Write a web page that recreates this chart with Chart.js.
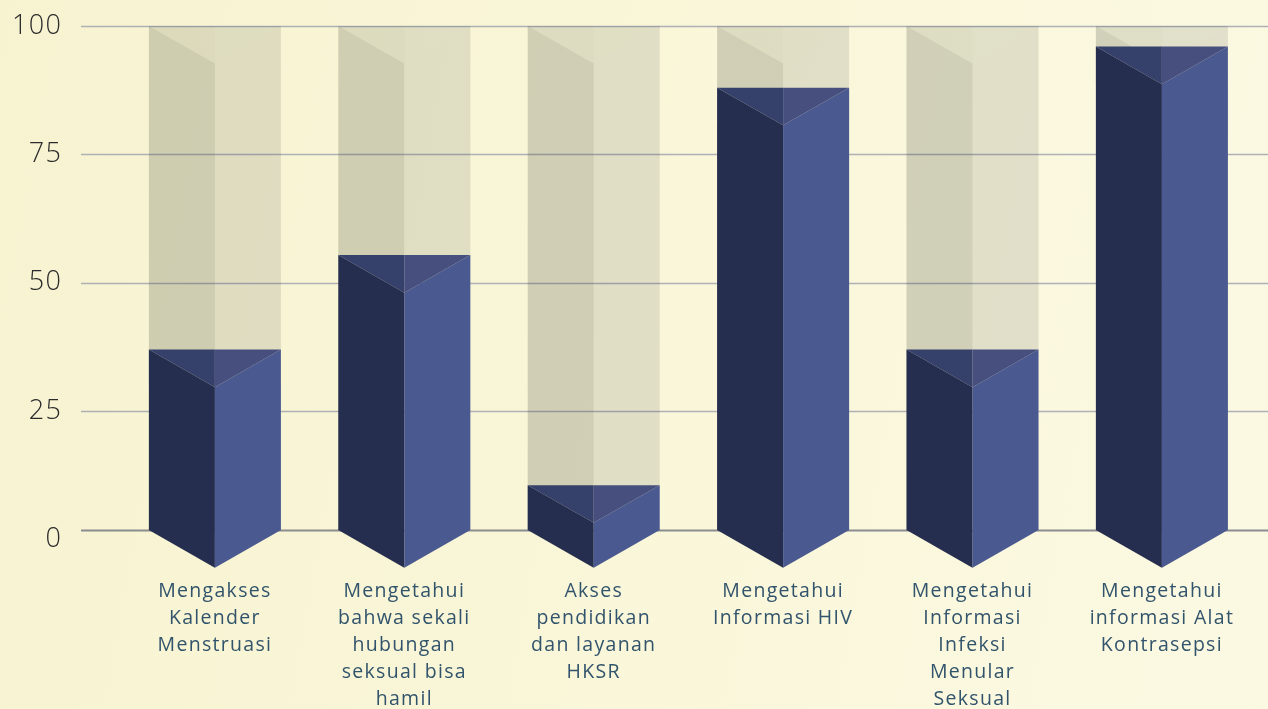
<!DOCTYPE html>
<html>
<head>
<meta charset="utf-8">
<script src="https://cdn.jsdelivr.net/npm/chart.js@4.4.0/dist/chart.umd.min.js"></script>
<style>
  html, body { margin: 0; padding: 0; }
  body { width: 1268px; height: 709px; overflow: hidden;
         background: linear-gradient(100deg, #f7f3d1 0%, #f9f6d8 45%, #fbf9e2 100%); }
  #wrap { position: relative; width: 1268px; height: 709px; }
</style>
</head>
<body>
<div id="wrap"><canvas id="c" width="1268" height="709"></canvas></div>
<script>
// ---- data ----
const categories = [
  ["Mengakses", "Kalender", "Menstruasi"],
  ["Mengetahui", "bahwa sekali", "hubungan", "seksual bisa", "hamil"],
  ["Akses", "pendidikan", "dan layanan", "HKSR"],
  ["Mengetahui", "Informasi HIV"],
  ["Mengetahui", "Informasi", "Infeksi", "Menular", "Seksual"],
  ["Mengetahui", "informasi Alat", "Kontrasepsi"]
];
const percentValues = [37, 55.4, 10.6, 88, 37, 96];
const totalValues = [100, 100, 100, 100, 100, 100];
const yTicks = [0, 25, 50, 75, 100];

// ---- styling constants ----
const BASE_VALUE = 1.85;
const FONT = '"Open Sans", "Lato", "Noto Sans", sans-serif';

function poly(ctx, pts, color) {
  ctx.beginPath();
  ctx.moveTo(pts[0][0], pts[0][1]);
  for (let i = 1; i < pts.length; i++) ctx.lineTo(pts[i][0], pts[i][1]);
  ctx.closePath();
  ctx.fillStyle = color;
  ctx.fill();
}

function prism(ctx, el, c) {
  const p = el.getProps(['x', 'y', 'base', 'width'], true);
  const hw = p.width / 2;
  const l = p.x - hw, r = p.x + hw, t = p.y, b = p.base;
  const d = hw * 0.57;
  poly(ctx, [[l, t], [p.x, t + d], [p.x, b + d], [l, b]], c.left);
  poly(ctx, [[p.x, t + d], [r, t], [r, b], [p.x, b + d]], c.right);
  poly(ctx, [[l, t], [p.x, t], [p.x, t + d]], c.topL);
  poly(ctx, [[p.x, t], [r, t], [p.x, t + d]], c.topR);
}

const textSpacingPlugin = {
  id: 'textSpacing',
  beforeDraw(chart) { chart.ctx.letterSpacing = '1.3px'; },
  afterDraw(chart) { chart.ctx.letterSpacing = '0px'; }
};

const gridPlugin = {
  id: 'gridPlugin',
  beforeDatasetsDraw(chart) {
    const ctx = chart.ctx, y = chart.scales.y;
    ctx.save();
    yTicks.forEach(v => {
      const isZero = v === 0;
      const py = Math.round(y.getPixelForValue(isZero ? BASE_VALUE : v)) + 0.5;
      ctx.beginPath();
      ctx.moveTo(81, py);
      ctx.lineTo(chart.width, py);
      ctx.lineWidth = isZero ? 2 : 1.5;
      ctx.strokeStyle = isZero ? 'rgba(120,122,130,0.85)' : 'rgba(150,154,170,0.75)';
      ctx.stroke();
    });
    ctx.restore();
  }
};

const prismPlugin = {
  id: 'prismPlugin',
  afterDatasetsDraw(chart) {
    const ctx = chart.ctx;
    ctx.save();
    const gray = chart.getDatasetMeta(0);
    gray.data.forEach(el => prism(ctx, el, {
      left: 'rgba(30,37,24,0.19)', right: 'rgba(31,36,41,0.115)',
      topL: 'rgba(30,36,30,0.125)', topR: 'rgba(30,36,40,0.108)'
    }));
    const blue = chart.getDatasetMeta(1);
    blue.data.forEach(el => prism(ctx, el, {
      left: '#262e50', right: '#4a5a90', topL: '#36416b', topR: '#474f7f'
    }));
    ctx.restore();
  }
};

new Chart(document.getElementById('c'), {
  type: 'bar',
  data: {
    labels: categories,
    datasets: [
      { label: 'Total', data: totalValues, base: BASE_VALUE,
        backgroundColor: 'rgba(0,0,0,0)', grouped: false,
        barPercentage: 0.697, categoryPercentage: 1 },
      { label: 'Persentase', data: percentValues, base: BASE_VALUE,
        backgroundColor: 'rgba(0,0,0,0)', grouped: false,
        barPercentage: 0.697, categoryPercentage: 1 }
    ]
  },
  options: {
    responsive: false,
    animation: false,
    devicePixelRatio: 1,
    layout: { padding: { top: 26, right: 11.4, bottom: 0, left: 0 } },
    plugins: { legend: { display: false }, tooltip: { enabled: false }, title: { display: false } },
    scales: {
      x: {
        grid: { display: false, drawTicks: false },
        border: { display: false },
        ticks: {
          color: '#31536b', font: { family: FONT, size: 19.5, weight: 400, lineHeight: 1.385 },
          padding: 38, maxRotation: 0, autoSkip: false
        },
        afterFit(s) { s.height = 169.4; s.paddingLeft = 0; s.paddingRight = 0; }
      },
      y: {
        min: 0, max: 100,
        afterBuildTicks(s) { s.ticks = yTicks.map(v => ({ value: v })); },
        grid: { display: false, drawTicks: false },
        border: { display: false },
        ticks: { color: '#2b2b2b', font: { family: FONT, size: 27, weight: 300 }, padding: 58 },
        afterFit(s) { s.width = 120.2; s.paddingTop = 0; s.paddingBottom = 0; }
      }
    }
  },
  plugins: [textSpacingPlugin, gridPlugin, prismPlugin]
});
</script>
</body>
</html>
